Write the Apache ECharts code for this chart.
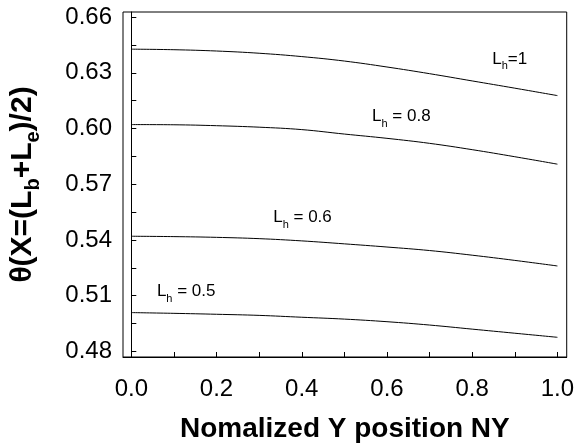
<!DOCTYPE html>
<html>
<head>
<meta charset="utf-8">
<style>
  html, body { margin: 0; padding: 0; background: #fff; }
  #chart { width: 577px; height: 448px; }
</style>
<script src="https://cdn.jsdelivr.net/npm/echarts@6/dist/echarts.min.js"></script>
</head>
<body>
<div id="chart"></div>
<script>
// normalized Y position
let xs = [0, 0.1, 0.2, 0.3, 0.4, 0.5, 0.6, 0.7, 0.8, 0.9, 1.0];

// theta at X=(Lb+Le)/2, one curve per Lh
let lh1 = [0.6427, 0.6424, 0.6417, 0.6405, 0.6387, 0.6363, 0.6331, 0.6295, 0.6256, 0.6217, 0.6177];
let lh08 = [0.6021, 0.6020, 0.6015, 0.6007, 0.5994, 0.5970, 0.5947, 0.5920, 0.5886, 0.5848, 0.5808];
let lh06 = [0.5420, 0.5418, 0.5414, 0.5407, 0.5395, 0.5379, 0.5362, 0.5343, 0.5318, 0.5290, 0.5260];
let lh05 = [0.5009, 0.5005, 0.5000, 0.4994, 0.4984, 0.4974, 0.4960, 0.4942, 0.4920, 0.4898, 0.4876];

// axis labels / ticks
let xLabelValues = [0, 0.2, 0.4, 0.6, 0.8, 1.0];
let xTickValues = [0, 0.1, 0.2, 0.3, 0.4, 0.5, 0.6, 0.7, 0.8, 0.9, 1.0];
let yLabelValues = [0.48, 0.51, 0.54, 0.57, 0.60, 0.63, 0.66];
let yTickValues = [0.48, 0.495, 0.51, 0.525, 0.54, 0.555, 0.57, 0.585, 0.60, 0.615, 0.63, 0.645, 0.66];

// curve annotations (data coords of the label's left edge)
let labelText = ['L|h|=1', 'L|h| = 0.8', 'L|h| = 0.6', 'L|h| = 0.5'];
let labelX = [0.847, 0.565, 0.333, 0.060];
let labelY = [0.6375, 0.6064, 0.5521, 0.5122];

let font = 'Liberation Sans, Arial, sans-serif';

function pairs(ys) {
  return xs.map(function (x, i) { return [x, ys[i]]; });
}

function lineSeries(ys, k) {
  let parts = labelText[k].split('|');
  return {
    type: 'line',
    data: pairs(ys),
    smooth: 0.4,
    symbol: 'none',
    lineStyle: { color: '#000', width: 1 },
    markPoint: {
      symbol: 'circle',
      symbolSize: 0,
      data: [{ coord: [labelX[k], labelY[k]] }],
      label: {
        show: true,
        position: 'right',
        distance: 0,
        formatter: '{a|' + parts[0] + '}{b|' + parts[1] + '}{a|' + parts[2] + '}',
        rich: {
          a: { fontFamily: font, fontSize: 17, color: '#000', lineHeight: 26 },
          b: { fontFamily: font, fontSize: 11, color: '#000', lineHeight: 11, verticalAlign: 'bottom' }
        }
      }
    }
  };
}

let option = {
  animation: false,
  grid: {
    left: 118, right: 9, top: 12, bottom: 86,
    show: true, borderColor: '#000', borderWidth: 1
  },
  xAxis: {
    type: 'value',
    min: -0.0195,
    max: 1.0218,
    name: 'Nomalized Y position NY',
    nameLocation: 'middle',
    nameGap: 58,
    nameTextStyle: { fontFamily: font, fontSize: 28, fontWeight: 'bold', color: '#000' },
    axisLine: { lineStyle: { color: '#000', width: 1 } },
    axisTick: { inside: true, length: 5, customValues: xTickValues, lineStyle: { color: '#000' } },
    axisLabel: {
      customValues: xLabelValues,
      margin: 20,
      fontFamily: font, fontSize: 24, color: '#000',
      formatter: function (v) { return v.toFixed(1); }
    },
    splitLine: { show: false }
  },
  yAxis: {
    type: 'value',
    min: 0.477,
    max: 0.6627,
    name: '{t|θ(X=(L}{s|b}{t|+L}{s|e}{t|)/2)}',
    nameLocation: 'middle',
    nameRotate: 90,
    nameGap: 80,
    nameTextStyle: {
      rich: {
        t: { fontFamily: font, fontSize: 30, fontWeight: 'bold', color: '#000', lineHeight: 40 },
        s: { fontFamily: font, fontSize: 20, fontWeight: 'bold', color: '#000', lineHeight: 20, verticalAlign: 'bottom' }
      }
    },
    axisLine: { lineStyle: { color: '#000', width: 1 } },
    axisTick: { inside: true, length: 5, customValues: yTickValues, lineStyle: { color: '#000' } },
    axisLabel: {
      customValues: yLabelValues,
      margin: 11,
      fontFamily: font, fontSize: 24, color: '#000',
      formatter: function (v) { return v.toFixed(2); }
    },
    splitLine: { show: false }
  },
  series: [
    lineSeries(lh1, 0),
    lineSeries(lh08, 1),
    lineSeries(lh06, 2),
    lineSeries(lh05, 3)
  ]
};

let chart = echarts.init(document.getElementById('chart'));
chart.setOption(option);
</script>
</body>
</html>
